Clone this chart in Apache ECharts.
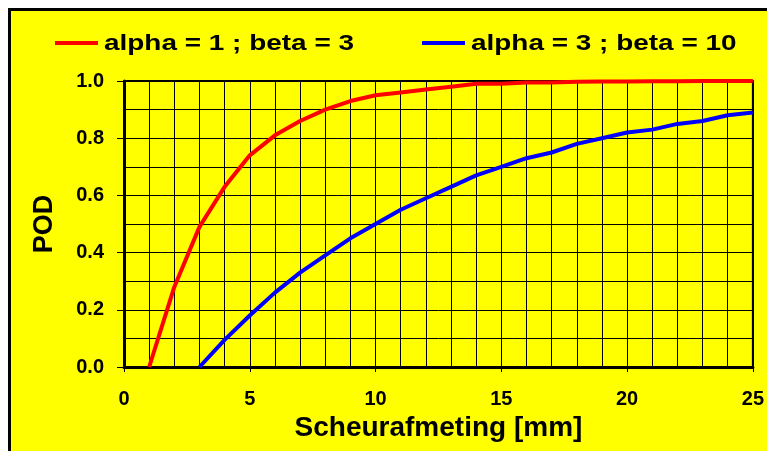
<!DOCTYPE html>
<html><head><meta charset="utf-8">
<script src="https://cdn.jsdelivr.net/npm/echarts@6/dist/echarts.min.js"></script>
<style>html,body{margin:0;padding:0;background:#fff}#c{width:767px;height:451px}</style>
</head><body><div id="c"></div>
<script>
var xValues = [1,2,3,4,5,6,7,8,9,10,11,12,13,14,15,16,17,18,19,20,21,22,23,24,25];
var redValues = [0,0.28,0.49,0.63,0.74,0.81,0.86,0.90,0.93,0.95,0.96,0.97,0.98,0.99,0.99,0.995,0.995,0.997,0.998,0.998,0.999,0.999,1.0,1.0,1.0];
var blueX = [3,4,5,6,7,8,9,10,11,12,13,14,15,16,17,18,19,20,21,22,23,24,25];
var blueValues = [0,0.095,0.18,0.26,0.33,0.39,0.45,0.50,0.55,0.59,0.63,0.67,0.70,0.73,0.75,0.78,0.80,0.82,0.83,0.85,0.86,0.88,0.89];
var seriesNames = ['alpha = 1 ; beta = 3', 'alpha = 3 ; beta = 10'];
var seriesColors = ['#ff0000', '#0000ff'];
var xTitle = 'Scheurafmeting [mm]';
var yTitle = 'POD';

function pairs(xs, ys){ return xs.map(function(x,i){return [x, ys[i]];}); }
var font = 'Liberation Sans, Arial, sans-serif';

function legendItem(lineX, textX, name, color){
  return [
    {type:'line', silent:true, z:5, shape:{x1:lineX, y1:43, x2:lineX+43, y2:43}, style:{stroke:color, lineWidth:4}},
    {type:'text', silent:true, z:5, x:textX, y:44, scaleX:1.27,
      style:{text:name, fontFamily:font, fontWeight:'bold', fontSize:22, fill:'#000', verticalAlign:'middle', align:'left'}}
  ];
}

var chart = echarts.init(document.getElementById('c'), null, {renderer:'canvas'});
chart.setOption({
  animation:false,
  backgroundColor:'#fff',
  graphic:[{type:'rect', z:-10, silent:true, shape:{x:9.5,y:9.5,width:800,height:500}, style:{fill:'#ffff00', stroke:'#000', lineWidth:3}}]
    .concat(legendItem(55, 104, seriesNames[0], seriesColors[0]))
    .concat(legendItem(422, 471, seriesNames[1], seriesColors[1])),
  grid:{left:124, right:14, top:81, bottom:84, show:true, borderColor:'#000', borderWidth:2, backgroundColor:'transparent'},
  xAxis:{type:'value', min:0, max:25, interval:5,
    name:xTitle, nameLocation:'middle', nameGap:47,
    nameTextStyle:{fontFamily:font, fontWeight:'bold', fontSize:28, color:'#000'},
    axisLine:{lineStyle:{color:'#000', width:3}},
    axisTick:{show:true, length:5, lineStyle:{color:'#000', width:1}},
    axisLabel:{fontFamily:font, fontWeight:'bold', fontSize:20, color:'#000', margin:22},
    splitLine:{show:true, lineStyle:{color:'#000', width:1}},
    minorTick:{show:false, splitNumber:5},
    minorSplitLine:{show:true, lineStyle:{color:'#000', width:1}}},
  yAxis:{type:'value', min:0, max:1, interval:0.2,
    name:yTitle, nameLocation:'middle', nameGap:66, nameRotate:90,
    nameTextStyle:{fontFamily:font, fontWeight:'bold', fontSize:27, color:'#000'},
    axisLine:{show:true, lineStyle:{color:'#000', width:3}},
    axisTick:{show:true, length:7, lineStyle:{color:'#000', width:1}},
    axisLabel:{fontFamily:font, fontWeight:'bold', fontSize:20, color:'#000', margin:20,
      formatter:function(v){return v.toFixed(1);}},
    splitLine:{show:true, lineStyle:{color:'#000', width:1}},
    minorTick:{show:false, splitNumber:2},
    minorSplitLine:{show:true, lineStyle:{color:'#000', width:1}}},
  series:[
    {name:seriesNames[0], type:'line', data:pairs(xValues, redValues), showSymbol:false, symbol:'none', color:seriesColors[0], lineStyle:{color:seriesColors[0], width:4}, z:3},
    {name:seriesNames[1], type:'line', data:pairs(blueX, blueValues), showSymbol:false, symbol:'none', color:seriesColors[1], lineStyle:{color:seriesColors[1], width:4}, z:3}
  ]
});
</script></body></html>
